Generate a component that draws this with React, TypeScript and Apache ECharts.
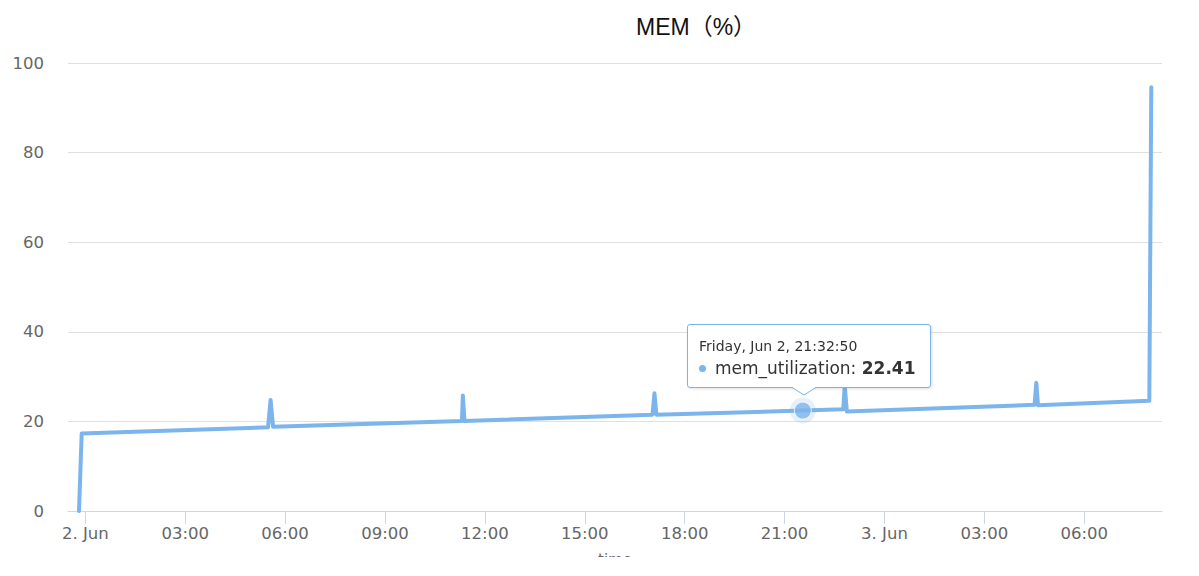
import React, { useEffect, useRef } from 'react';
import * as echarts from 'echarts';

const chartTitle = 'MEM（%）';
const seriesName = 'mem_utilization';
const xAxisName = 'time';

// sample times (UTC) and memory utilization values
const times = [
  '2023-06-01T23:48:40', '2023-06-01T23:53:30',
  '2023-06-02T05:29:20', '2023-06-02T05:33:50', '2023-06-02T05:38:20',
  '2023-06-02T11:18:40', '2023-06-02T11:20:15', '2023-06-02T11:23:10',
  '2023-06-02T17:02:00', '2023-06-02T17:05:30', '2023-06-02T17:09:00',
  '2023-06-02T21:32:50',
  '2023-06-02T22:45:40', '2023-06-02T22:48:20', '2023-06-02T22:52:10',
  '2023-06-03T04:30:25', '2023-06-03T04:33:30', '2023-06-03T04:36:35',
  '2023-06-03T07:57:10', '2023-06-03T08:00:40',
];
const values = [
  0, 17.3,
  18.7, 24.8, 18.8,
  20.1, 25.8, 20.1,
  21.5, 26.3, 21.5,
  22.41,
  22.7, 28.0, 22.2,
  23.7, 28.6, 23.6,
  24.6, 94.6,
];
const hoverIndex = 11;

const xMin = '2023-06-01T23:28:50';
const xMax = '2023-06-03T08:20:00';
const tickTimes = [
  '2023-06-02T00:00:00', '2023-06-02T03:00:00', '2023-06-02T06:00:00', '2023-06-02T09:00:00',
  '2023-06-02T12:00:00', '2023-06-02T15:00:00', '2023-06-02T18:00:00', '2023-06-02T21:00:00',
  '2023-06-03T00:00:00', '2023-06-03T03:00:00', '2023-06-03T06:00:00',
];
const tickLabels = ['2. Jun', '03:00', '06:00', '09:00', '12:00', '15:00', '18:00', '21:00', '3. Jun', '03:00', '06:00'];

const yMin = 0;
const yMax = 100;
const yStep = 20;

const dayNames = ['Sunday', 'Monday', 'Tuesday', 'Wednesday', 'Thursday', 'Friday', 'Saturday'];
const monthNames = ['Jan', 'Feb', 'Mar', 'Apr', 'May', 'Jun', 'Jul', 'Aug', 'Sep', 'Oct', 'Nov', 'Dec'];

const ms = (s: string) => Date.parse(s + 'Z');
const pad = (n: number) => (n < 10 ? '0' + n : '' + n);

export default function App() {
  const ref = useRef<HTMLDivElement>(null);
  useEffect(() => {
    if (!ref.current) return;
    const chart = echarts.init(ref.current, null, { renderer: 'svg' });
    const lineData = times.map((t, i) => [ms(t), values[i]]);
    const hoverData = [[ms(times[hoverIndex]), values[hoverIndex]]];
    const tickVals = tickTimes.map(ms);
    const font = "'DejaVu Sans', sans-serif";
    const color = '#7cb5ec';

    chart.setOption({
      animation: false,
      title: {
        text: chartTitle,
        left: 636,
        top: 15,
        padding: 0,
        textStyle: {
          fontFamily: "'Liberation Sans', 'Noto Sans CJK SC', sans-serif",
          fontSize: 23,
          fontWeight: 'normal',
          color: '#111',
        },
      },
      grid: { left: 68, right: 37, top: 63, bottom: 46, containLabel: false, outerBoundsMode: 'none' },
      tooltip: {
        trigger: 'item',
        triggerOn: 'none',
        alwaysShowContent: true,
        transitionDuration: 0,
        backgroundColor: '#fff',
        borderColor: color,
        borderWidth: 1,
        borderRadius: 3,
        padding: [12, 14, 8, 11],
        shadowBlur: 3,
        shadowColor: 'rgba(0,0,0,0.12)',
        shadowOffsetX: 1,
        shadowOffsetY: 1,
        textStyle: { fontFamily: font, color: '#333' },
        position: (point: number[]) => [point[0] - 116, point[1] - 87],
        formatter: (p: any) => {
          const d = new Date(p.value[0]);
          const head = `${dayNames[d.getUTCDay()]}, ${monthNames[d.getUTCMonth()]} ${d.getUTCDate()}, ${pad(d.getUTCHours())}:${pad(d.getUTCMinutes())}:${pad(d.getUTCSeconds())}`;
          return (
            `<div style="font-size:14px;line-height:18px;color:#333">${head}</div>` +
            `<div style="font-size:17px;line-height:22px;margin-top:2px;color:#333">` +
            `<span style="display:inline-block;width:7px;height:7px;border-radius:50%;background:${color};margin-right:9px;vertical-align:middle;position:relative;top:-1px"></span>` +
            `${seriesName}: <b>${Number(p.value[1]).toFixed(2)}</b></div>` +
            `<svg style="position:absolute;left:104px;top:100%;overflow:visible" width="24" height="9">` +
            `<polygon points="0,0 12,8 24,0" fill="#fff"/>` +
            `<polyline points="0,0.5 12,8 24,0.5" fill="none" stroke="${color}" stroke-width="1"/></svg>`
          );
        },
      },
      xAxis: {
        type: 'value',
        min: ms(xMin),
        max: ms(xMax),
        name: xAxisName,
        nameLocation: 'middle',
        nameGap: 41,
        nameTextStyle: { fontFamily: font, fontSize: 15, color: '#666' },
        axisLine: { lineStyle: { color: '#ccd6eb' } },
        axisTick: { show: true, length: 13, lineStyle: { color: '#ccd6eb' }, customValues: tickVals },
        axisLabel: {
          customValues: tickVals,
          formatter: (v: number) => {
            const i = tickVals.indexOf(v);
            return i >= 0 ? tickLabels[i] : '';
          },
          fontFamily: font,
          fontSize: 16.5,
          color: '#666',
          margin: 14,
        },
        splitLine: { show: false },
      },
      yAxis: {
        type: 'value',
        min: yMin,
        max: yMax,
        interval: yStep,
        axisLine: { show: false },
        axisTick: { show: false },
        splitLine: { lineStyle: { color: '#e0e0e0' } },
        axisLabel: { fontFamily: font, fontSize: 16.5, color: '#666', margin: 24, padding: [6, 0, 0, 0] },
      },
      series: [
        {
          type: 'line',
          name: seriesName,
          data: lineData,
          showSymbol: false,
          symbol: 'none',
          silent: true,
          lineStyle: { color, width: 4, join: 'round', cap: 'round' },
          itemStyle: { color },
          z: 2,
        },
        {
          type: 'scatter',
          data: hoverData,
          symbolSize: 26,
          silent: true,
          itemStyle: { color: 'rgba(124,181,236,0.25)' },
          tooltip: { show: false },
          z: 3,
        },
        {
          type: 'scatter',
          name: seriesName,
          data: hoverData,
          symbolSize: 17,
          itemStyle: { color, borderColor: '#fff', borderWidth: 1 },
          z: 4,
        },
      ],
    });
    chart.dispatchAction({ type: 'showTip', seriesIndex: 2, dataIndex: 0 });
    return () => chart.dispose();
  }, []);
  return <div ref={ref} style={{ position: 'absolute', left: 0, top: 0, width: 1199, height: 557 }} />;
}
